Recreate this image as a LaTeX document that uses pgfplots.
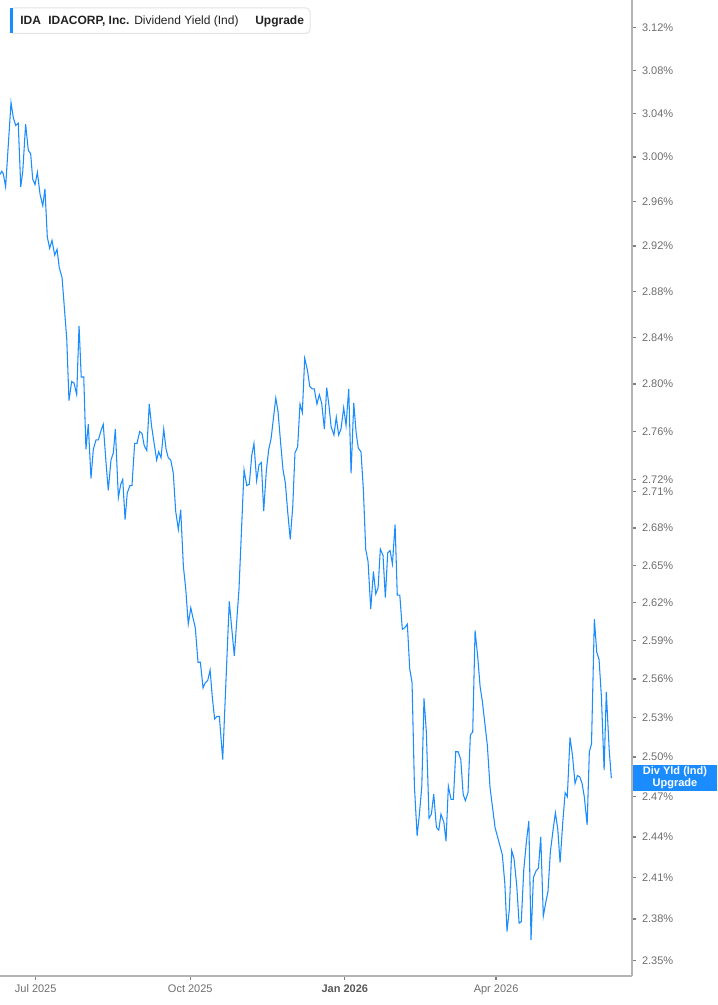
\documentclass[border=0pt]{standalone}
\usepackage{fontspec}
\setmainfont{Liberation Sans}
\usepackage{pgfplots}
\usepackage{pgfplotstable}
\pgfplotsset{compat=1.18}

\definecolor{lineblue}{HTML}{1A8CFF}
\definecolor{spinegray}{HTML}{B4B4B4}
\definecolor{ticktext}{HTML}{6E6E6E}
\definecolor{legtext}{HTML}{222222}
\definecolor{legborder}{HTML}{E4E4E4}

% days from 1 Jul 2025, dividend yield in %
\pgfplotstableread{
day yld
-21.3 2.984
-20.2 2.987
-19.3 2.985
-17.9 2.973
-14.7 3.050
-13.3 3.036
-11.9 3.029
-10.4 3.031
-8.9 2.973
-7.7 2.987
-6.0 3.030
-4.4 3.006
-3.0 3.003
-1.8 2.980
-0.4 2.975
1.0 2.986
2.6 2.966
4.2 2.956
5.5 2.971
6.9 2.928
8.3 2.918
9.7 2.925
11.3 2.912
12.7 2.917
14.0 2.901
15.7 2.892
18.5 2.838
19.8 2.786
21.4 2.802
22.8 2.801
24.4 2.791
25.8 2.850
27.1 2.806
28.6 2.806
29.9 2.745
31.3 2.766
32.9 2.721
34.3 2.745
35.9 2.753
37.3 2.753
38.7 2.760
40.2 2.766
41.8 2.735
43.2 2.711
44.8 2.736
46.2 2.742
47.4 2.762
49.2 2.705
50.6 2.716
51.8 2.720
53.2 2.687
54.5 2.709
56.1 2.715
57.3 2.715
58.9 2.750
60.3 2.750
61.9 2.760
63.3 2.758
64.6 2.748
66.1 2.744
67.6 2.783
69.0 2.764
70.6 2.749
72.0 2.736
73.2 2.743
74.6 2.738
76.2 2.762
77.6 2.745
78.9 2.738
80.4 2.736
81.9 2.725
83.3 2.694
84.9 2.679
86.3 2.695
87.9 2.649
89.3 2.631
90.8 2.603
92.3 2.616
93.6 2.608
95.0 2.600
96.6 2.573
98.0 2.573
99.6 2.553
100.9 2.557
102.4 2.559
103.8 2.567
105.1 2.546
106.5 2.529
107.9 2.531
109.3 2.531
111.3 2.498
115.2 2.621
118.2 2.578
121.0 2.631
124.0 2.728
125.6 2.715
127.1 2.716
128.6 2.740
129.9 2.750
131.5 2.719
132.9 2.732
134.3 2.734
135.7 2.694
137.3 2.728
138.7 2.745
140.1 2.754
141.4 2.770
142.9 2.788
144.2 2.777
145.8 2.750
147.2 2.728
148.6 2.717
150.0 2.693
151.5 2.671
153.0 2.698
154.3 2.742
155.9 2.747
157.3 2.783
158.7 2.776
160.1 2.822
161.7 2.812
163.1 2.798
164.5 2.796
165.8 2.796
167.4 2.783
168.8 2.791
170.2 2.784
171.8 2.762
173.2 2.797
174.6 2.781
175.8 2.764
177.5 2.757
178.9 2.772
180.3 2.757
181.7 2.762
183.3 2.780
184.7 2.765
186.3 2.796
187.7 2.725
189.3 2.784
190.7 2.759
192.0 2.746
193.6 2.743
195.0 2.712
196.4 2.663
197.8 2.653
199.4 2.615
201.0 2.645
202.4 2.627
203.8 2.632
205.1 2.663
206.7 2.658
208.1 2.624
209.5 2.660
210.9 2.662
212.3 2.651
213.9 2.683
215.2 2.626
216.7 2.626
218.2 2.599
219.6 2.600
221.2 2.603
222.6 2.568
224.0 2.557
225.4 2.478
227.0 2.441
228.3 2.456
229.8 2.478
231.1 2.545
232.5 2.519
234.1 2.454
235.5 2.457
236.9 2.472
238.5 2.447
239.9 2.445
241.2 2.457
242.9 2.451
244.2 2.437
245.6 2.478
247.2 2.468
248.6 2.468
250.0 2.504
251.4 2.504
253.0 2.498
254.4 2.472
255.7 2.467
257.3 2.473
258.7 2.517
260.1 2.519
261.5 2.598
263.1 2.577
264.5 2.554
265.8 2.543
268.8 2.509
270.4 2.477
273.4 2.447
276.4 2.433
277.7 2.427
279.2 2.406
280.5 2.371
281.9 2.387
283.3 2.430
284.7 2.424
286.3 2.404
287.7 2.377
289.0 2.378
290.5 2.416
292.0 2.436
293.5 2.452
294.8 2.365
296.2 2.410
297.8 2.415
299.2 2.417
300.6 2.440
302.1 2.382
303.6 2.392
304.9 2.400
306.3 2.429
307.9 2.445
309.3 2.458
310.7 2.446
312.1 2.421
313.7 2.451
315.1 2.473
316.4 2.470
318.0 2.515
319.4 2.502
321.0 2.480
322.4 2.486
323.8 2.485
325.2 2.480
326.5 2.470
328.2 2.449
329.5 2.504
330.8 2.510
332.5 2.607
333.9 2.581
335.3 2.575
336.7 2.546
338.3 2.490
339.6 2.550
341.3 2.506
342.6 2.484
}\yielddata

\begin{document}
\begin{tikzpicture}
\begin{axis}[
  at={(0pt,0pt)}, anchor=south west,
  scale only axis,
  width=474pt, height=732pt,
  xmin=-21.25, xmax=354.9,
  ymode=log, ymin=2.3392, ymax=3.1466,
  axis x line*=bottom, axis y line*=right,
  axis line style={-, draw=spinegray, line width=1.1pt},
  tick align=outside,
  major tick length=3pt,
  tick style={draw=gray, line width=0.9pt},
  minor tick style={draw=none},
  xtick={0,92,184,274},
  xticklabels={Jul 2025,Oct 2025,{\bfseries\color{ticktext!80!black}Jan 2026},Apr 2026},
  ytick={2.35,2.38,2.41,2.44,2.47,2.50,2.53,2.56,2.59,2.62,2.65,2.68,2.71,2.72,2.76,2.80,2.84,2.88,2.92,2.96,3.00,3.04,3.08,3.12},
  yticklabels={2.35\%,2.38\%,2.41\%,2.44\%,2.47\%,2.50\%,2.53\%,2.56\%,2.59\%,2.62\%,2.65\%,2.68\%,2.71\%,2.72\%,2.76\%,2.80\%,2.84\%,2.88\%,2.92\%,2.96\%,3.00\%,3.04\%,3.08\%,3.12\%},
  x tick label style={font=\fontsize{8.25}{10}\selectfont, text=ticktext},
  y tick label style={font=\fontsize{8.25}{10}\selectfont, text=ticktext, anchor=west, xshift=1pt},
]
\addplot[lineblue, line width=0.8pt] table[x=day, y=yld] {\yielddata};
\end{axis}

\begin{scope}[x=0.75pt, y=-0.75pt, shift={(0pt,732pt)}]
  % header box
  \draw[legborder, fill=white, rounded corners=3pt, line width=0.75pt] (10,8) rectangle (310,33.5);
  \fill[lineblue] (10,8.5) rectangle (13,33);
  \node[anchor=base west, inner sep=0, text=legtext, font=\bfseries\fontsize{9}{11}\selectfont] at (20,25) {IDA};
  \node[anchor=base west, inner sep=0, text=legtext, font=\bfseries\fontsize{9}{11}\selectfont] at (48,25) {IDACORP, Inc.};
  \node[anchor=base west, inner sep=0, text=legtext, font=\fontsize{9}{11}\selectfont] at (134,25) {Dividend Yield (Ind)};
  \node[anchor=base west, inner sep=0, text=legtext, font=\bfseries\fontsize{9}{11}\selectfont] at (255,25) {Upgrade};
  % last value box
  \fill[lineblue] (633,765) rectangle (717,791);
  \node[inner sep=0, text=white, font=\bfseries\fontsize{8.25}{10}\selectfont] at (675,771.5) {Div Yld (Ind)};
  \node[inner sep=0, text=white, font=\bfseries\fontsize{8.25}{10}\selectfont] at (675,783.5) {Upgrade};
  \pgfresetboundingbox
  \path[use as bounding box] (0,0) rectangle (717,1005);
\end{scope}
\end{tikzpicture}
\end{document}
